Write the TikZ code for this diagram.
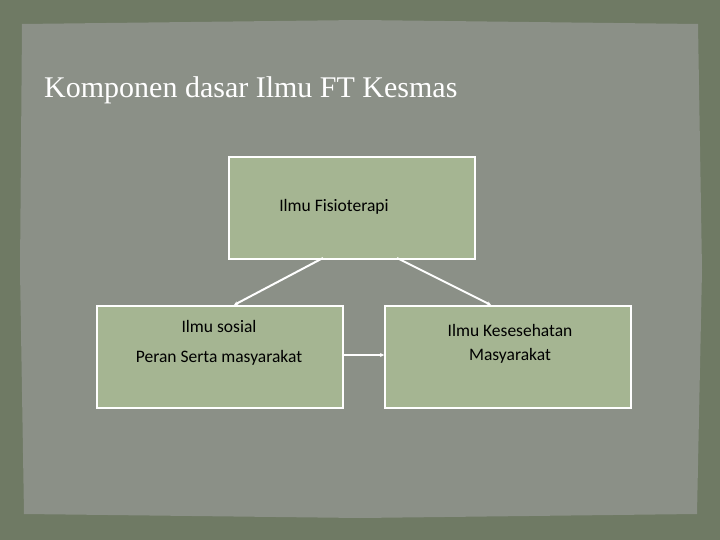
\documentclass[tikz,border=0pt]{standalone}
\usepackage{fontspec}
\usetikzlibrary{arrows.meta}
\setmainfont{Carlito}
\newfontfamily\titlefont{Liberation Serif}
\begin{document}
\begin{tikzpicture}[x=1pt,y=-1pt,
  boxst/.style={draw=white,line width=2pt,fill=boxgreen,minimum width=246pt,minimum height=102pt,anchor=north west,inner sep=0pt},
  conn/.style={draw=white,line width=2pt,-{Stealth[length=4pt,width=4pt]}},
  txt/.style={font=\fontsize{17.5pt}{24pt}\selectfont,text=black}]
\definecolor{boxgreen}{HTML}{A5B592}
\definecolor{outer}{HTML}{6F7A64}
\definecolor{inner}{HTML}{8B9087}
\useasboundingbox (0,0) rectangle (720,540);
\fill[outer] (0,0) rectangle (720,540);
\fill[inner] (22,24) -- (360,20) -- (698,24) -- (702,270) -- (697,514) -- (360,518) -- (24,514) -- (20,270) -- cycle;
\node[anchor=west,text=white,font=\titlefont\fontsize{30pt}{32pt}\selectfont,inner sep=0pt] (title) at (44,90) {Komponen dasar Ilmu FT Kesmas};
\node[boxst] (b1) at (228,156) {};
\node[boxst] (b2) at (96,305) {};
\node[boxst] (b3) at (384,305) {};
\node[txt] (t1) at (334,207) {Ilmu Fisioterapi};
\node[txt] (t2a) at (219,326) {Ilmu sosial};
\node[txt] (t2b) at (219,358) {Peran Serta masyarakat};
\node[txt,align=center] (t3) at (510,344) {Ilmu Kesesehatan\\Masyarakat};
\coordinate (c1) at (323,258);
\coordinate (c2) at (397,258);
\coordinate (d1) at (234,305);
\coordinate (d2) at (491,305);
\draw[conn] (c1) -- (d1);
\draw[conn] (c2) -- (d2);
\draw[conn] (b2.east |- 0,355) -- (b3.west |- 0,355);
\end{tikzpicture}
\end{document}
